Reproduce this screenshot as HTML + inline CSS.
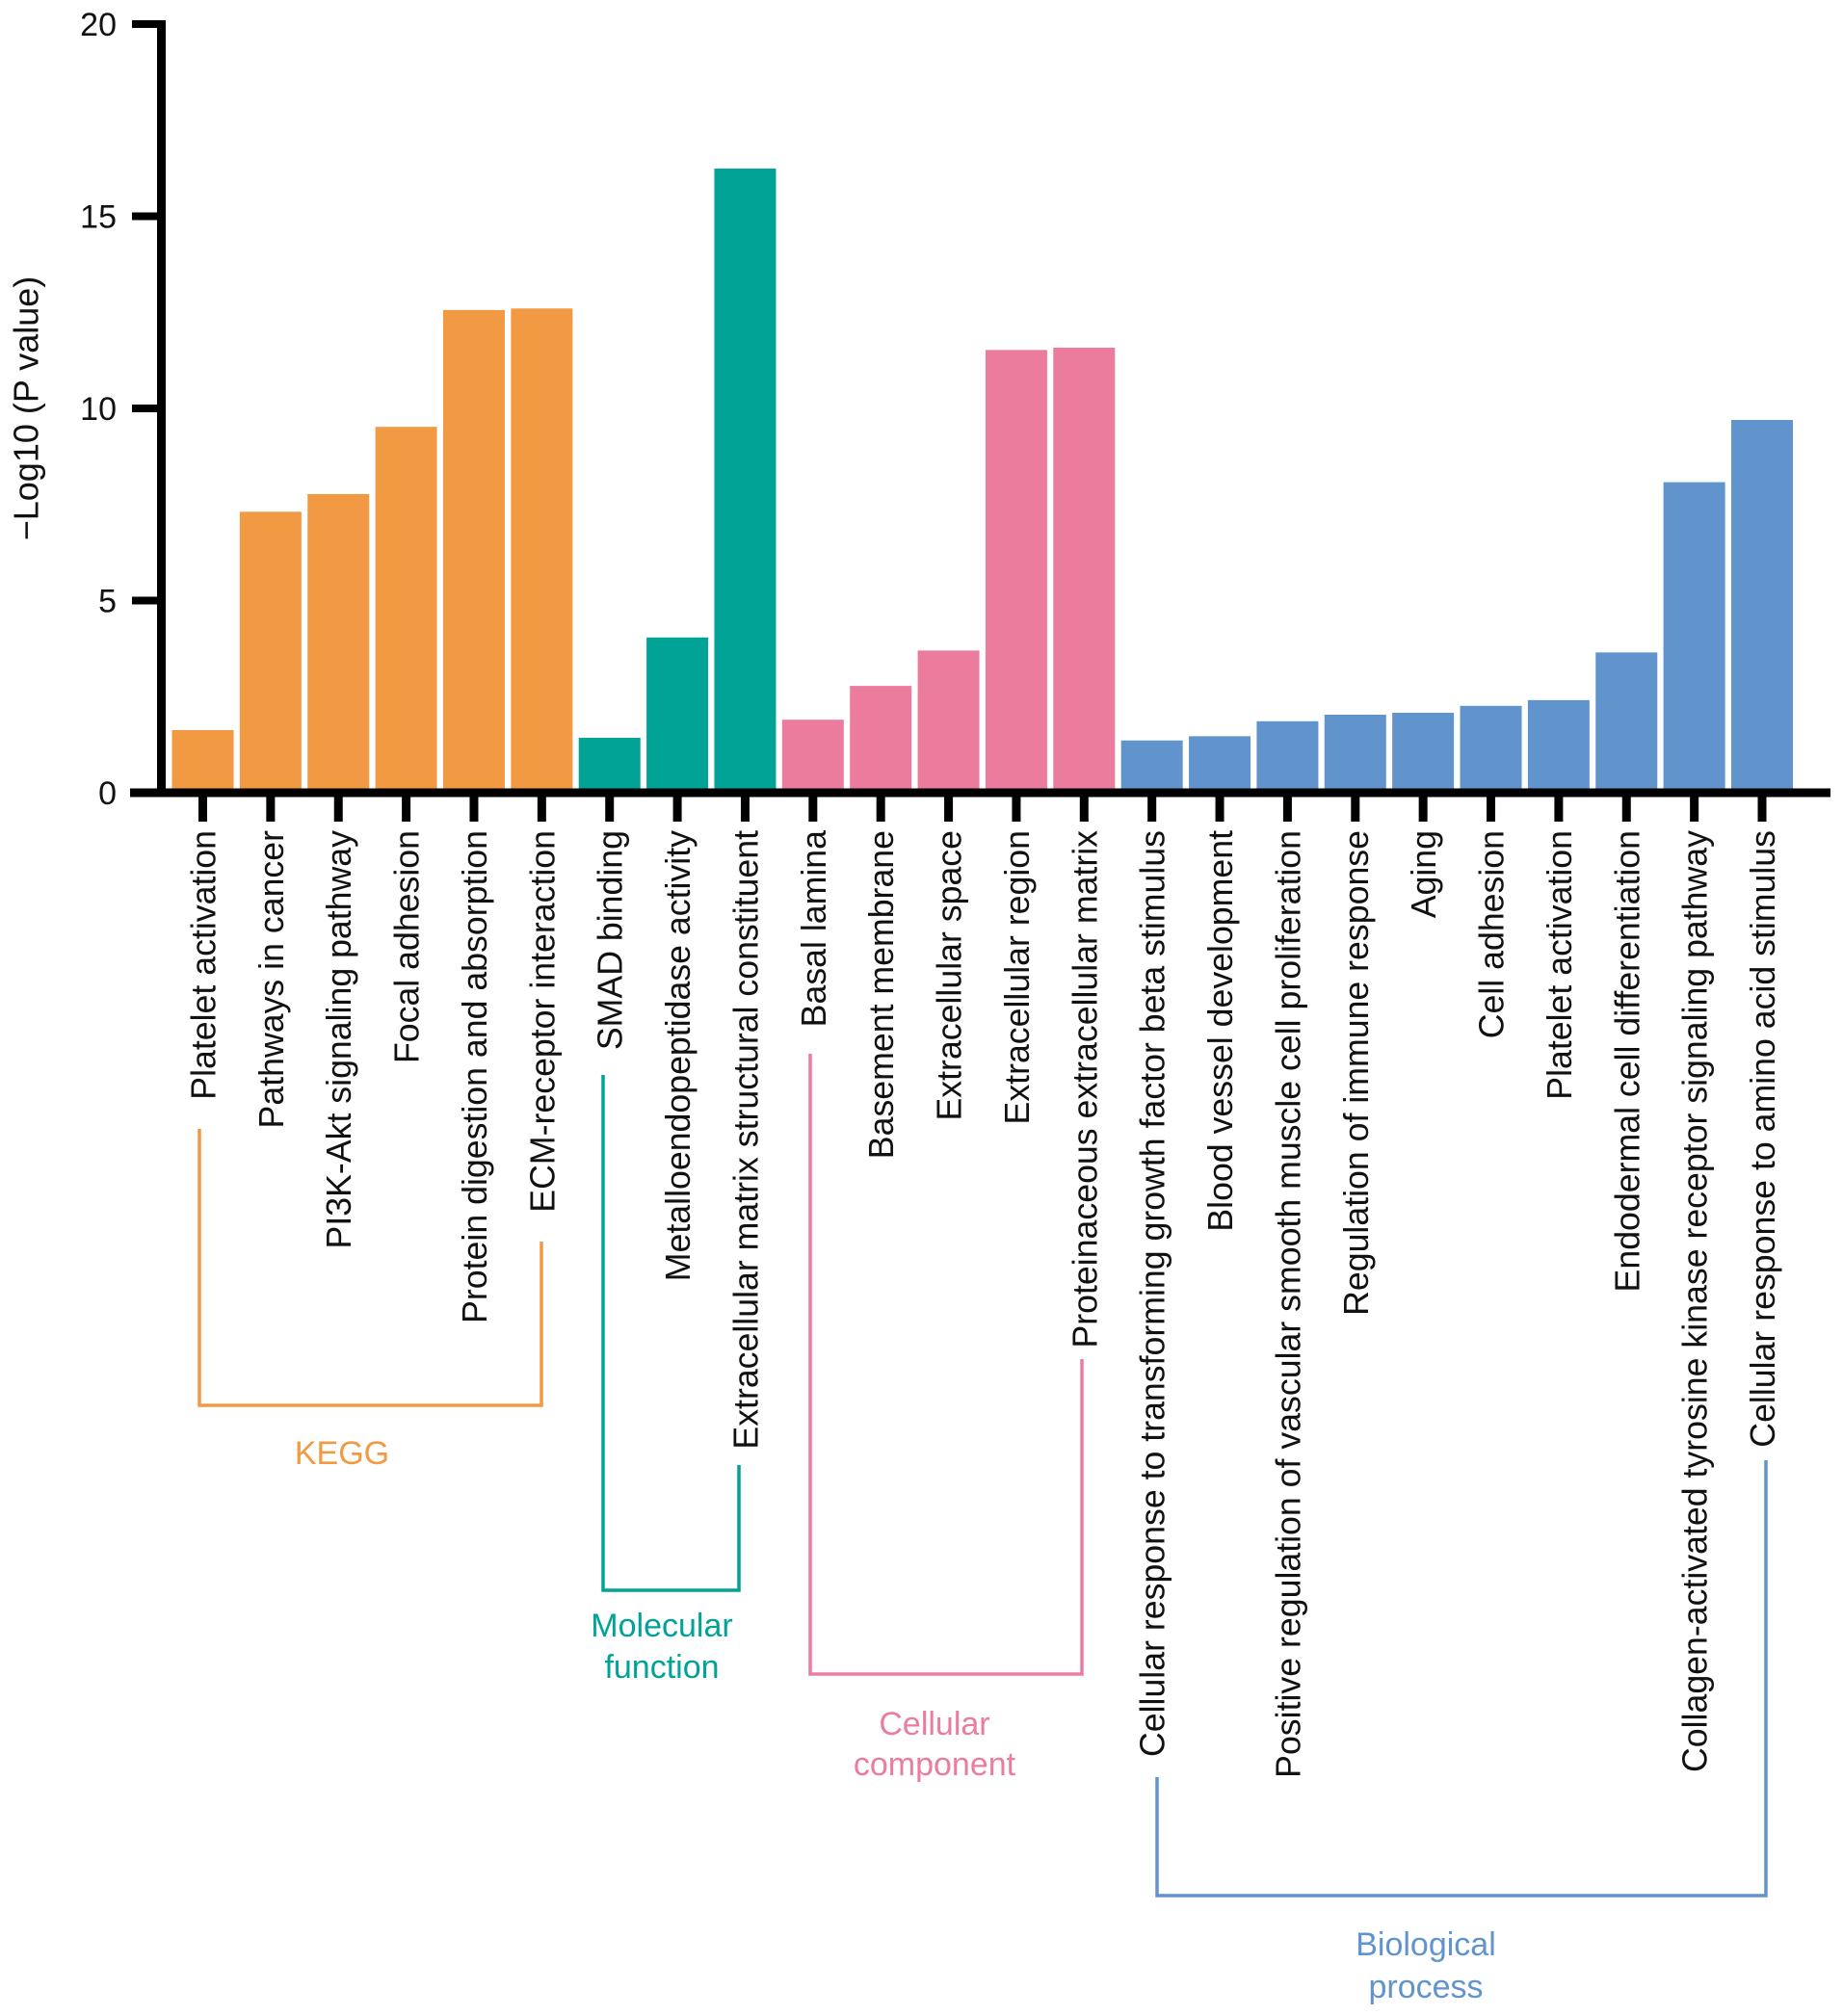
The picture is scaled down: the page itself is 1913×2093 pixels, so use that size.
<!DOCTYPE html>
<html><head><meta charset="utf-8"><style>
html,body{margin:0;padding:0;background:#fff;}
svg{display:block;font-family:"Liberation Sans",Arial,sans-serif;}
</style></head><body>
<svg id="chart" width="1913" height="2093" viewBox="0 0 1913 2093" xmlns="http://www.w3.org/2000/svg"></svg>
<script>
const categories = ["Platelet activation","Pathways in cancer","PI3K-Akt signaling pathway","Focal adhesion","Protein digestion and absorption","ECM-receptor interaction","SMAD binding","Metalloendopeptidase activity","Extracellular matrix structural constituent","Basal lamina","Basement membrane","Extracellular space","Extracellular region","Proteinaceous extracellular matrix","Cellular response to transforming growth factor beta stimulus","Blood vessel development","Positive regulation of vascular smooth muscle cell proliferation","Regulation of immune response","Aging","Cell adhesion","Platelet activation","Endodermal cell differentiation","Collagen-activated tyrosine kinase receptor signaling pathway","Cellular response to amino acid stimulus"];
const values = [1.63,7.31,7.77,9.52,12.56,12.6,1.43,4.04,16.24,1.9,2.78,3.7,11.52,11.58,1.36,1.47,1.86,2.03,2.08,2.26,2.41,3.65,8.08,9.7];
const groupOf = [0,0,0,0,0,0,1,1,1,2,2,2,2,2,3,3,3,3,3,3,3,3,3,3];
const groupNames = [["KEGG"],["Molecular","function"],["Cellular","component"],["Biological","process"]];
const groupColors = ["#F29A43","#00A396","#EC7C9D","#6194CC"];
const yTicks = [0,5,10,15,20];
// bracket geometry (pixel layout, not data)
const brackets = [
  {lx:207, ly:1172, rx:562, ry:1289, by:1459, tx:355, ty:[1508]},
  {lx:626, ly:1116, rx:767, ry:1521, by:1651, tx:687, ty:[1687,1730]},
  {lx:841, ly:1094, rx:1123, ry:1411, by:1738, tx:970, ty:[1789,1831]},
  {lx:1201, ly:1845, rx:1833, ry:1516, by:1968, tx:1480, ty:[2018,2062]}
];
const NS="http://www.w3.org/2000/svg";
const svg=document.getElementById('chart');
const axisX=167.5, y0=823, y20=25, yMax=20;
const firstCenter=210.5, lastCenter=1829;
const pitch=(lastCenter-firstCenter)/(categories.length-1);
const barW=64;
function yScale(v){return y0-(v/yMax)*(y0-y20);}
function xCenter(i){return firstCenter+i*pitch;}
function mk(tag,attrs,parent){const e=document.createElementNS(NS,tag);for(const k in attrs)e.setAttribute(k,attrs[k]);(parent||svg).appendChild(e);return e;}

const barsG=mk('g',{});


values.forEach((v,i)=>{
  const top=yScale(v);
  const r=mk('rect',{x:xCenter(i)-barW/2,y:top,width:barW,height:(y0-4)-top,fill:groupColors[groupOf[i]]},barsG);
  
  
});
const yAxis=mk('line',{x1:axisX,y1:21,x2:axisX,y2:827,stroke:'#000','stroke-width':9});


const xAxis=mk('line',{x1:135,y1:y0,x2:1900,y2:y0,stroke:'#000','stroke-width':9});


yTicks.forEach(t=>{
  const y=yScale(t);
  const tk=mk('line',{x1:137,y1:y,x2:axisX,y2:y,stroke:'#000','stroke-width':8});
  
  
  const tx=mk('text',{x:121,y:y+12,'text-anchor':'end','font-size':34,fill:'#111'});
  tx.textContent=t;
  
  
});
const yt=mk('text',{transform:'translate(27,424) rotate(-90)','text-anchor':'middle','dominant-baseline':'central','font-size':36,fill:'#111'});
yt.textContent='\u2212Log10 (P value)';


categories.forEach((c,i)=>{
  const x=xCenter(i);
  const tk=mk('line',{x1:x,y1:y0,x2:x,y2:853,stroke:'#000','stroke-width':9});
  
  
  const tx=mk('text',{transform:'translate('+(x+13)+',862) rotate(-90)','text-anchor':'end','font-size':35.7,fill:'#111'});
  tx.textContent=c;
  
  
});
brackets.forEach((b,g)=>{
  const p=mk('polyline',{points:b.lx+','+b.ly+' '+b.lx+','+b.by+' '+b.rx+','+b.by+' '+b.rx+','+b.ry,fill:'none',stroke:groupColors[g],'stroke-width':3.5});
  
  
  groupNames[g].forEach((line,k)=>{
    const t=mk('text',{x:b.tx,y:b.ty[k]+12,'text-anchor':'middle','font-size':34,fill:groupColors[g]});
    t.textContent=line;
    
    
  });
});
</script>
</body></html>
